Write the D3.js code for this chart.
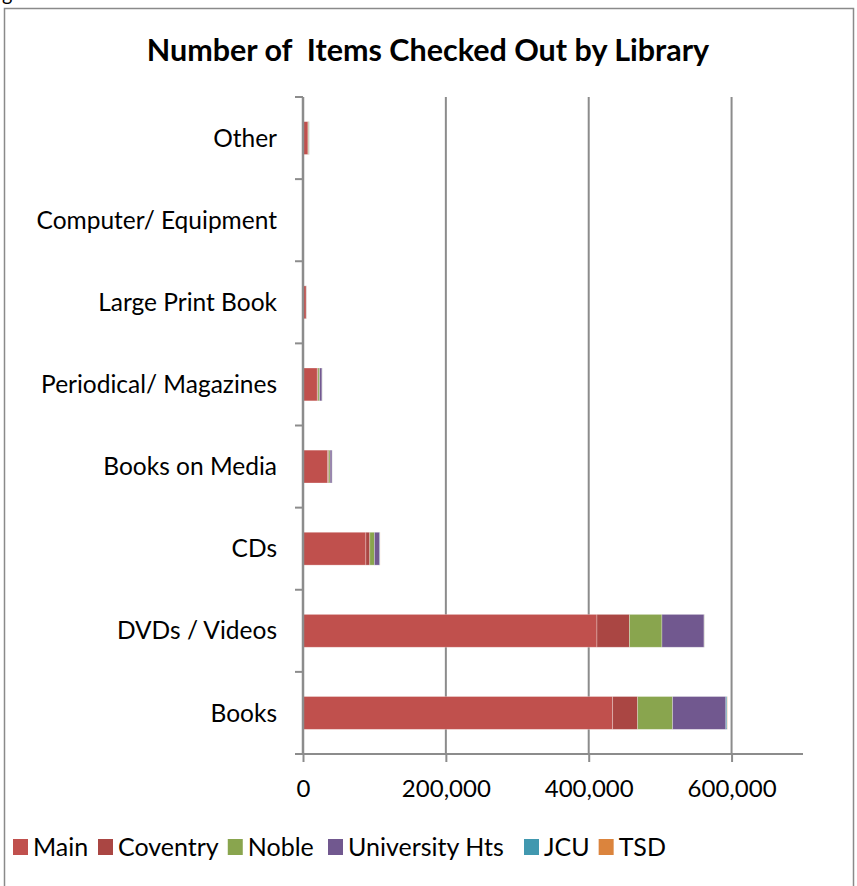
<!DOCTYPE html>
<html>
<head>
<meta charset="utf-8">
<script src="https://cdn.jsdelivr.net/npm/d3@7"></script>
<style>
  html, body { margin: 0; padding: 0; background: #fff; }
  svg { display: block; }
  text { font-family: "Lato", "Open Sans", sans-serif; fill: #000; }
</style>
</head>
<body>
<svg id="chart" width="857" height="886"></svg>
<script>
// Item categories, top to bottom
const categories = [
  "Other", "Computer/ Equipment", "Large Print Book", "Periodical/ Magazines",
  "Books on Media", "CDs", "DVDs / Videos", "Books"
];
// Branch libraries (stack order, left to right)
const libraries = ["Main", "Coventry", "Noble", "University Hts", "JCU", "TSD"];
// Items checked out per category, one array per library
const mainValues      = [7000, 150, 4500, 20000, 34500, 88000, 411500, 433500];
const coventryValues  = [300, 0, 300, 1000, 1500, 5500, 45500, 35000];
const nobleValues     = [1000, 0, 200, 2300, 2000, 6500, 45500, 49000];
const univHtsValues   = [300, 0, 200, 3300, 2700, 7500, 59000, 74500];
const jcuValues       = [100, 0, 0, 200, 100, 300, 300, 1500];
const tsdValues       = [50, 0, 0, 100, 50, 100, 200, 500];
const xTicks = [0, 200000, 400000, 600000];

const colors = ["#C0504D", "#AA4643", "#89A54E", "#71588F", "#4198AF", "#DB843D"];

const seriesValues = [mainValues, coventryValues, nobleValues, univHtsValues, jcuValues, tsdValues];
const rows = categories.map((c, i) => {
  const r = { category: c };
  libraries.forEach((lib, j) => { r[lib] = seriesValues[j][i]; });
  return r;
});

const svg = d3.select("#chart");
const margin = { left: 303, right: 54, top: 97, bottom: 132 };
const W = 857, H = 886;

// outer frame
svg.append("rect")
  .attr("x", 4.5).attr("y", 8.5)
  .attr("width", 849).attr("height", 900)
  .attr("fill", "none").attr("stroke", "#8a8a8a").attr("stroke-width", 1.5);

// tail of the caption line above the frame
svg.append("text").attr("x", 2).attr("y", 1).style("font-size", "20px").text("g");

const x = d3.scaleLinear().domain([0, 700000]).range([margin.left, W - margin.right]);
const y = d3.scaleBand().domain(categories)
  .range([margin.top, H - margin.bottom])
  .paddingInner(0.6).paddingOuter(0.3);

// title
svg.append("text")
  .attr("x", 428).attr("y", 61)
  .attr("text-anchor", "middle")
  .style("font-size", "30.5px").style("font-weight", "bold")
  .style("white-space", "pre")
  .text("Number of  Items Checked Out by Library");

// vertical gridlines
svg.append("g").selectAll("line")
  .data(xTicks.filter(d => d > 0))
  .join("line")
  .attr("x1", d => x(d)).attr("x2", d => x(d))
  .attr("y1", margin.top).attr("y2", H - margin.bottom)
  .attr("stroke", "#8c8c8c").attr("stroke-width", 2);

// stacked bars
const stack = d3.stack().keys(libraries);
const layers = stack(rows);
svg.append("g").selectAll("g")
  .data(layers)
  .join("g")
  .attr("fill", (d, i) => colors[i])
  .selectAll("rect")
  .data(d => d)
  .join("rect")
  .attr("x", d => x(d[0]))
  .attr("y", d => y(d.data.category))
  .attr("width", d => Math.max(0, x(d[1]) - x(d[0])))
  .attr("height", y.bandwidth())
  .attr("stroke", "rgba(255,255,255,0.35)")
  .attr("stroke-width", 0.8);

// x axis
const xAxis = svg.append("g")
  .attr("transform", `translate(0,${H - margin.bottom})`)
  .call(d3.axisBottom(x).tickValues(xTicks).tickSize(8).tickPadding(18)
    .tickFormat(d3.format(",")));
xAxis.select(".domain").attr("stroke", "#8c8c8c").attr("stroke-width", 2)
  .attr("d", `M${margin.left},0H${W - margin.right}`);
xAxis.selectAll(".tick line").attr("stroke", "#8c8c8c").attr("stroke-width", 2);
xAxis.selectAll(".tick text").style("font-size", "24px").attr("fill", "#000");

// y axis with ticks on category boundaries
const yAxis = svg.append("g").attr("transform", `translate(${margin.left},0)`);
yAxis.append("line")
  .attr("x1", 0).attr("x2", 0)
  .attr("y1", margin.top).attr("y2", H - margin.bottom)
  .attr("stroke", "#8c8c8c").attr("stroke-width", 2.5);
const step = y.step();
const boundaries = d3.range(categories.length + 1).map(i => margin.top + i * step);
yAxis.selectAll(".bt").data(boundaries).join("line")
  .attr("x1", -8).attr("x2", 0)
  .attr("y1", d => d).attr("y2", d => d)
  .attr("stroke", "#8c8c8c").attr("stroke-width", 2);
yAxis.selectAll(".lbl").data(categories).join("text")
  .attr("x", -26)
  .attr("y", d => y(d) + y.bandwidth() / 2)
  .attr("dy", "0.35em")
  .attr("text-anchor", "end")
  .style("font-size", "24.5px")
  .text(d => d);

// legend entries at their slot positions, pushed right if a label runs long
const legendSlots = [13, 98, 222, 328, 524, 592];
const legend = svg.append("g").attr("transform", "translate(0,847)");
let prevEnd = 0;
libraries.forEach((lib, i) => {
  const lx = Math.max(legendSlots[i], prevEnd + 9);
  const g = legend.append("g").attr("transform", `translate(${lx},0)`);
  g.append("rect")
    .attr("x", 0).attr("y", -8).attr("width", 15).attr("height", 16)
    .attr("fill", colors[i]);
  const t = g.append("text")
    .attr("x", 20).attr("y", 0).attr("dy", "0.36em")
    .style("font-size", "25px")
    .text(lib);
  prevEnd = lx + 20 + t.node().getComputedTextLength();
});
</script>
</body>
</html>
